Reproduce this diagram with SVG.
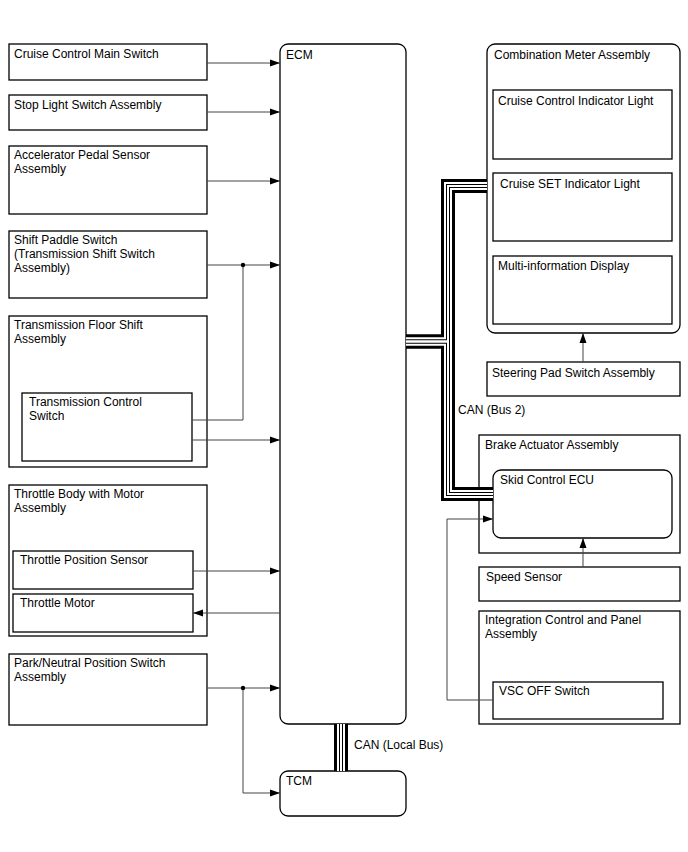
<svg xmlns="http://www.w3.org/2000/svg" width="688" height="852" viewBox="0 0 688 852">
<defs>
<marker id="ah" markerWidth="10" markerHeight="8" refX="10" refY="4" orient="auto" markerUnits="userSpaceOnUse">
<path d="M0,0.5 L10,4 L0,7.5 Z" fill="#000"/>
</marker>
<style>
.box{fill:#fff;stroke:#000;stroke-width:1.3}
.t{font-family:"Liberation Sans",Arial,sans-serif;font-size:12px;fill:#000}
.c{fill:none;stroke:#444;stroke-width:1}
.a{marker-end:url(#ah)}
.b1{fill:none;stroke:#000;stroke-width:14}
.b2{fill:none;stroke:#fff;stroke-width:8}
.b3{fill:none;stroke:#000;stroke-width:4}
.b4{fill:none;stroke:#fff;stroke-width:2}
</style>
</defs>
<rect width="688" height="852" fill="#fff"/>

<g id="cruise-main">
<rect class="box" x="9" y="44" width="198" height="36"/>
<text class="t" x="14" y="58">Cruise Control Main Switch</text>
</g>
<g id="stop-light">
<rect class="box" x="9" y="95" width="198" height="35"/>
<text class="t" x="14" y="109">Stop Light Switch Assembly</text>
</g>
<g id="accel-pedal">
<rect class="box" x="9" y="146" width="198" height="68"/>
<text class="t" x="14" y="159">Accelerator Pedal Sensor</text>
<text class="t" x="14" y="173">Assembly</text>
</g>
<g id="shift-paddle">
<rect class="box" x="9" y="231" width="198" height="67"/>
<text class="t" x="14" y="244">Shift Paddle Switch</text>
<text class="t" x="14" y="258">(Transmission Shift Switch</text>
<text class="t" x="14" y="272">Assembly)</text>
</g>
<g id="floor-shift">
<rect class="box" x="9" y="316" width="198" height="151"/>
<text class="t" x="14" y="329">Transmission Floor Shift</text>
<text class="t" x="14" y="343">Assembly</text>
</g>
<g id="trans-control-switch">
<rect class="box" x="22" y="393" width="170" height="68"/>
<text class="t" x="29" y="406">Transmission Control</text>
<text class="t" x="29" y="420">Switch</text>
</g>
<g id="throttle-body">
<rect class="box" x="9" y="485" width="198" height="151"/>
<text class="t" x="14" y="498">Throttle Body with Motor</text>
<text class="t" x="14" y="512">Assembly</text>
</g>
<g id="throttle-pos">
<rect class="box" x="13" y="551" width="180" height="38"/>
<text class="t" x="20" y="564">Throttle Position Sensor</text>
</g>
<g id="throttle-motor">
<rect class="box" x="13" y="594" width="180" height="38"/>
<text class="t" x="20" y="607">Throttle Motor</text>
</g>
<g id="park-neutral">
<rect class="box" x="9" y="654" width="198" height="71"/>
<text class="t" x="14" y="667">Park/Neutral Position Switch</text>
<text class="t" x="14" y="681">Assembly</text>
</g>

<g id="ecm">
<rect class="box" x="280" y="44" width="126" height="680" rx="8"/>
<text class="t" x="286" y="59">ECM</text>
</g>
<g id="tcm">
<rect class="box" x="280" y="771" width="126" height="45" rx="8"/>
<text class="t" x="286" y="785">TCM</text>
</g>

<g id="combination-meter">
<rect class="box" x="487" y="44" width="193" height="289" rx="8"/>
<text class="t" x="494" y="59">Combination Meter Assembly</text>
</g>
<g id="cruise-indicator">
<rect class="box" x="493" y="90" width="179" height="69"/>
<text class="t" x="498" y="105">Cruise Control Indicator Light</text>
</g>
<g id="cruise-set">
<rect class="box" x="493" y="173" width="179" height="68"/>
<text class="t" x="500" y="188">Cruise SET Indicator Light</text>
</g>
<g id="multi-info">
<rect class="box" x="493" y="256" width="179" height="68"/>
<text class="t" x="498" y="270">Multi-information Display</text>
</g>
<g id="steering-pad">
<rect class="box" x="487" y="362" width="193" height="34"/>
<text class="t" x="492" y="377">Steering Pad Switch Assembly</text>
</g>
<g id="brake-actuator">
<rect class="box" x="479" y="435" width="201" height="118"/>
<text class="t" x="485" y="449">Brake Actuator Assembly</text>
</g>
<g id="skid-control">
<rect class="box" x="493" y="470" width="179" height="68" rx="8"/>
<text class="t" x="500" y="484">Skid Control ECU</text>
</g>
<g id="speed-sensor">
<rect class="box" x="479" y="567" width="201" height="34"/>
<text class="t" x="486" y="581">Speed Sensor</text>
</g>
<g id="integration-panel">
<rect class="box" x="479" y="611" width="201" height="113"/>
<text class="t" x="485" y="624">Integration Control and Panel</text>
<text class="t" x="485" y="638">Assembly</text>
</g>
<g id="vsc-off">
<rect class="box" x="493" y="682" width="170" height="37"/>
<text class="t" x="499" y="695">VSC OFF Switch</text>
</g>

<g id="connectors">
<line class="c a" x1="207" y1="63" x2="280" y2="63"/>
<line class="c a" x1="207" y1="112" x2="280" y2="112"/>
<line class="c a" x1="207" y1="181" x2="280" y2="181"/>
<line class="c a" x1="207" y1="265" x2="280" y2="265"/>
<polyline class="c" points="192,420 243,420 243,265"/>
<circle cx="243" cy="265" r="2.2" fill="#000"/>
<line class="c a" x1="192" y1="440" x2="280" y2="440"/>
<line class="c a" x1="193" y1="571" x2="280" y2="571"/>
<line class="c a" x1="280" y1="613" x2="193" y2="613"/>
<line class="c a" x1="207" y1="688" x2="280" y2="688"/>
<polyline class="c a" points="243,688 243,793 280,793"/>
<circle cx="243" cy="688" r="2.2" fill="#000"/>
<line class="c a" x1="583" y1="362" x2="583" y2="333"/>
<line class="c a" x1="583" y1="567" x2="583" y2="538"/>
<polyline class="c a" points="493,700 447,700 447,519 493,519"/>
<g id="can-bus2">
<path class="b1" d="M406,341.5 H448 V186 H487"/>
<path class="b1" d="M406,341.5 H448 V494 H493"/>
<path class="b2" d="M406,341.5 H448 V186 H487"/>
<path class="b2" d="M406,341.5 H448 V494 H493"/>
<path class="b3" d="M406,341.5 H448 V186 H487"/>
<path class="b3" d="M406,341.5 H448 V494 H493"/>
<path class="b4" d="M406,341.5 H448 V186 H487"/>
<path class="b4" d="M406,341.5 H448 V494 H493"/>
</g>
<g id="can-local">
<path class="b1" d="M341,724 V771"/>
<path class="b2" d="M341,724 V771"/>
<path class="b3" d="M341,724 V771"/>
<path class="b4" d="M341,724 V771"/>
</g>
<text class="t" x="458" y="414">CAN (Bus 2)</text>
<text class="t" x="354" y="749">CAN (Local Bus)</text>
</g>
</svg>
